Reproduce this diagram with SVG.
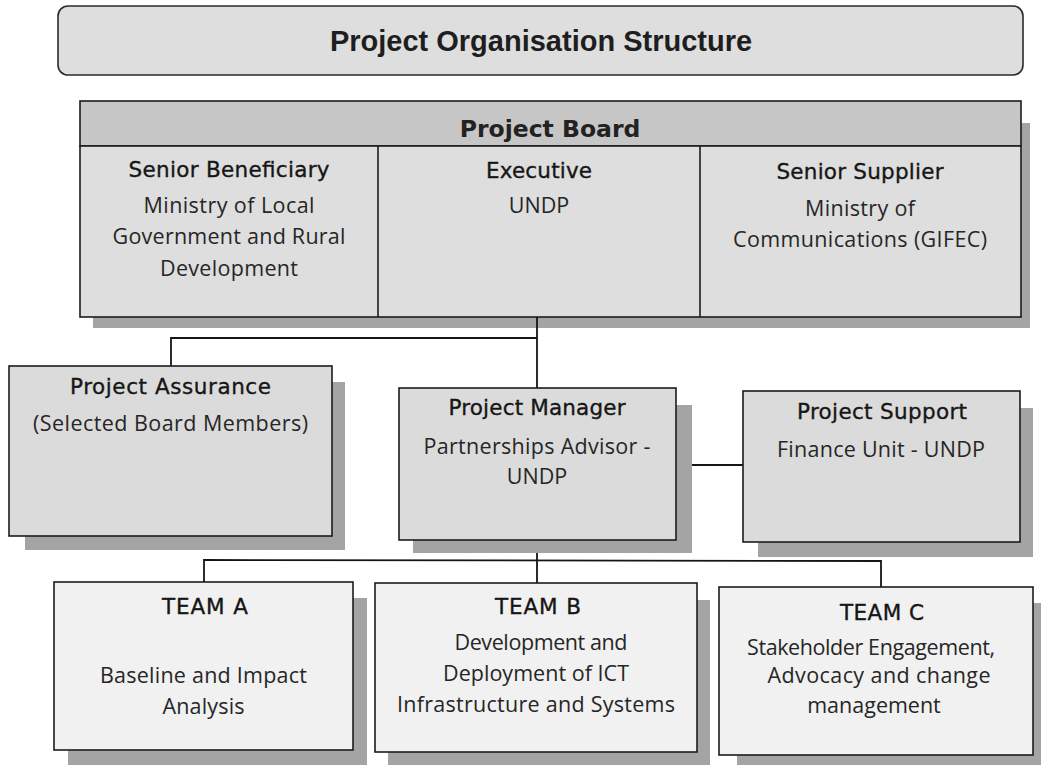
<svg xmlns="http://www.w3.org/2000/svg" width="1041" height="765" viewBox="0 0 1041 765">
  <style>
    .bg { fill: #ffffff; }
    .shadow { fill: #a4a4a4; }
    .box { stroke: #1c1c1c; stroke-width: 1.6; }
    .title-box { fill: #dedede; stroke: #2a2a2a; stroke-width: 1.6; }
    .board-head { fill: #c6c6c6; }
    .board-cell { fill: #dedede; }
    .mid { fill: #dbdbdb; }
    .team { fill: #f1f1f1; }
    .rule { stroke: #1c1c1c; stroke-width: 1.6; fill: none; }
    .conn { stroke: #151515; stroke-width: 1.8; fill: none; }
    .title { font-family: "Liberation Sans", Arial, sans-serif; font-weight: bold; font-size: 29px; fill: #1e1e1e; text-anchor: middle; }
    .board-title { font-family: "DejaVu Sans", Verdana, sans-serif; font-weight: bold; font-size: 23.5px; fill: #222; text-anchor: middle; }
    .head { font-family: "DejaVu Sans", Verdana, sans-serif; font-size: 21.5px; fill: #161616; stroke: #161616; stroke-width: 0.35; text-anchor: middle; }
    .sub { font-family: "Open Sans", "Liberation Sans", sans-serif; font-size: 21.5px; fill: #262626; text-anchor: middle; }
  </style>

  <rect class="bg" x="0" y="0" width="1041" height="765"/>

  <!-- Title banner -->
  <g id="title">
    <rect class="title-box" x="58" y="6" width="965" height="69" rx="10" ry="10"/>
    <text class="title" x="541" y="51">Project Organisation Structure</text>
  </g>

  <!-- Project Board with its three seats -->
  <g id="project-board">
    <rect class="shadow" x="93" y="123" width="937" height="205"/>
    <rect class="board-head box" x="80" y="101" width="941" height="45"/>
    <rect class="board-cell box" x="80" y="146" width="941" height="171"/>
    <line class="rule" x1="378" y1="146" x2="378" y2="317"/>
    <line class="rule" x1="700" y1="146" x2="700" y2="317"/>
    <text class="board-title" x="550" y="137">Project Board</text>

    <text class="head" x="229" y="177" textLength="201">Senior Beneficiary</text>
    <text class="sub" x="229" y="213" textLength="171">Ministry of Local</text>
    <text class="sub" x="229" y="244" textLength="233">Government and Rural</text>
    <text class="sub" x="229" y="276" textLength="138">Development</text>

    <text class="head" x="539" y="178" textLength="106">Executive</text>
    <text class="sub" x="539" y="213">UNDP</text>

    <text class="head" x="860" y="179" textLength="167">Senior Supplier</text>
    <text class="sub" x="860" y="216" textLength="110">Ministry of</text>
    <text class="sub" x="860" y="247" textLength="254">Communications (GIFEC)</text>
  </g>

  <!-- Connectors -->
  <g id="connectors">
    <polyline class="conn" points="537,317 537,388"/>
    <polyline class="conn" points="171,366 171,338 537,338"/>
    <polyline class="conn" points="676,465 743,465"/>
    <polyline class="conn" points="537,540 537,583"/>
    <polyline class="conn" points="204,582 204,560 881,561 881,587"/>
  </g>

  <!-- Project Assurance -->
  <g id="project-assurance">
    <rect class="shadow" x="25" y="382" width="320" height="168"/>
    <rect class="mid box" x="9" y="366" width="323" height="170"/>
    <text class="head" x="170.5" y="394" textLength="201">Project Assurance</text>
    <text class="sub" x="170.5" y="431" textLength="275">(Selected Board Members)</text>
  </g>

  <!-- Project Manager -->
  <g id="project-manager">
    <rect class="shadow" x="413" y="405" width="279" height="148"/>
    <rect class="mid box" x="399" y="388" width="277" height="152"/>
    <text class="head" x="537" y="415" textLength="177">Project Manager</text>
    <text class="sub" x="537" y="454" textLength="227">Partnerships Advisor -</text>
    <text class="sub" x="537" y="484">UNDP</text>
  </g>

  <!-- Project Support -->
  <g id="project-support">
    <rect class="shadow" x="758" y="408" width="275" height="149"/>
    <rect class="mid box" x="743" y="391" width="277" height="151"/>
    <text class="head" x="882" y="419" textLength="170">Project Support</text>
    <text class="sub" x="881" y="457" textLength="208">Finance Unit - UNDP</text>
  </g>

  <!-- Teams -->
  <g id="team-a">
    <rect class="shadow" x="68" y="598" width="299" height="172"/>
    <rect class="team box" x="54" y="582" width="299" height="168"/>
    <text class="head" x="205" y="614" textLength="86">TEAM A</text>
    <text class="sub" x="203.5" y="683" textLength="207">Baseline and Impact</text>
    <text class="sub" x="203.5" y="714" textLength="82">Analysis</text>
  </g>

  <g id="team-b">
    <rect class="shadow" x="388" y="600" width="322" height="170"/>
    <rect class="team box" x="375" y="583" width="322" height="169"/>
    <text class="head" x="538" y="614" textLength="86">TEAM B</text>
    <text class="sub" x="541" y="650" textLength="173">Development and</text>
    <text class="sub" x="536" y="681" textLength="186">Deployment of ICT</text>
    <text class="sub" x="536" y="712" textLength="278">Infrastructure and Systems</text>
  </g>

  <g id="team-c">
    <rect class="shadow" x="737" y="603" width="310" height="170"/>
    <rect class="team box" x="719" y="587" width="314" height="168"/>
    <text class="head" x="882" y="620" textLength="84">TEAM C</text>
    <text class="sub" x="871" y="655" textLength="248">Stakeholder Engagement,</text>
    <text class="sub" x="879" y="683" textLength="223">Advocacy and change</text>
    <text class="sub" x="874" y="713">management</text>
  </g>
</svg>
